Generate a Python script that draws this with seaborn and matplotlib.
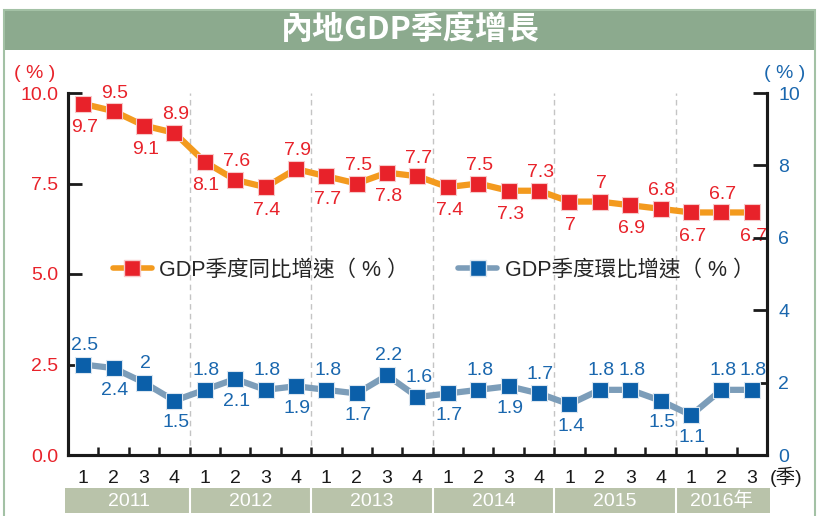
import numpy as np
import pandas as pd
import seaborn as sns
import matplotlib
matplotlib.use("Agg")
import matplotlib.pyplot as plt
from matplotlib.patches import Rectangle
from matplotlib.lines import Line2D
from matplotlib.transforms import blended_transform_factory

# ---------------- data ----------------
quarters = ["1", "2", "3", "4"] * 5 + ["1", "2", "3"]
years = ["2011", "2012", "2013", "2014", "2015", "2016年"]
year_len = [4, 4, 4, 4, 4, 3]
yoy = [9.7, 9.5, 9.1, 8.9, 8.1, 7.6, 7.4, 7.9, 7.7, 7.5, 7.8, 7.7,
       7.4, 7.5, 7.3, 7.3, 7.0, 7.0, 6.9, 6.8, 6.7, 6.7, 6.7]
yoy_labels = ["9.7", "9.5", "9.1", "8.9", "8.1", "7.6", "7.4", "7.9", "7.7", "7.5", "7.8", "7.7",
              "7.4", "7.5", "7.3", "7.3", "7", "7", "6.9", "6.8", "6.7", "6.7", "6.7"]
qoq = [2.5, 2.4, 2.0, 1.5, 1.8, 2.1, 1.8, 1.9, 1.8, 1.7, 2.2, 1.6,
       1.7, 1.8, 1.9, 1.7, 1.4, 1.8, 1.8, 1.5, 1.1, 1.8, 1.8]
qoq_labels = ["2.5", "2.4", "2", "1.5", "1.8", "2.1", "1.8", "1.9", "1.8", "1.7", "2.2", "1.6",
              "1.7", "1.8", "1.9", "1.7", "1.4", "1.8", "1.8", "1.5", "1.1", "1.8", "1.8"]
left_ticks = [0.0, 2.5, 5.0, 7.5, 10.0]
right_ticks = [0, 2, 4, 6, 8, 10]
title = "內地GDP季度增長"
name_yoy = "GDP季度同比增速（ % ）"
name_qoq = "GDP季度環比增速（ % ）"

# label placement (1 above, -1 below)
yoy_pos = [-1, 1] * 11 + [-1]
qoq_pos = [1, -1, 1, -1, 1, -1, 1, -1, 1, -1, 1, 1,
           -1, 1, -1, 1, -1, 1, 1, -1, -1, 1, 1]

# ---------------- style ----------------
sns.set_theme(style="white")
plt.rcParams["font.family"] = ["Liberation Sans", "Noto Sans CJK TC", "DejaVu Sans"]

RED = "#e8222a"
ORANGE = "#f39a1e"
BLUE = "#0b5fa9"
BLUE_LINE = "#7c9db9"
BLUE_TXT = "#1a67ae"
GREEN = "#8caa8e"
BAND = "#b9c3aa"
FS = 14

df = pd.DataFrame({"x": np.arange(len(yoy)), "yoy": yoy, "qoq": qoq})

fig = plt.figure(figsize=(8.2, 5.16), dpi=100)
fig.patch.set_facecolor("white")
ax = fig.add_axes([68 / 820, 1 - 455 / 516, (767 - 68) / 820, (455 - 93) / 516])
ax2 = ax.twinx()

# title bar + frame
fig.patches.append(Rectangle((0.005, 1 - 50 / 516), 0.989, 40 / 516, transform=fig.transFigure,
                             facecolor=GREEN, edgecolor="none", zorder=0))
fig.patches.append(Rectangle((0.005, -0.02), 0.989, 1 - 10 / 516 + 0.02, transform=fig.transFigure,
                             facecolor="none", edgecolor="#a3c1a5", lw=1.5, zorder=0))
fig.text(0.5, 1 - 30 / 516, title, color="white", fontsize=23, fontweight="bold",
         ha="center", va="center", family=["Noto Sans CJK TC", "DejaVu Sans"])

# year separators
for b in np.cumsum(year_len)[:-1] - 0.5:
    ax.axvline(b, color="#c4c4c4", lw=1, ls=(0, (4, 3)), zorder=0)

sns.lineplot(data=df, x="x", y="yoy", ax=ax, color=ORANGE, lw=4.5, marker="s", markersize=11,
             markerfacecolor=RED, markeredgecolor="#f7c9c9", markeredgewidth=0.8, zorder=3)
sns.lineplot(data=df, x="x", y="qoq", ax=ax2, color=BLUE_LINE, lw=4.5, marker="s", markersize=11,
             markerfacecolor=BLUE, markeredgecolor="#dbe6f0", markeredgewidth=0.8, zorder=3)

for i, (v, t, p) in enumerate(zip(yoy, yoy_labels, yoy_pos)):
    ax.annotate(t, (i, v), xytext=(1, 13 if p > 0 else -17), textcoords="offset points",
                ha="center", va="center", color=RED, fontsize=FS)
for i, (v, t, p) in enumerate(zip(qoq, qoq_labels, qoq_pos)):
    ax2.annotate(t, (i, v), xytext=(1, 14 if p > 0 else -16), textcoords="offset points",
                 ha="center", va="center", color=BLUE_TXT, fontsize=FS)

for a in (ax, ax2):
    a.set_xlim(-0.5, len(yoy) - 0.5)
    a.set_ylim(0, 10)
    a.set_xlabel("")
    a.set_ylabel("")
    a.spines["top"].set_visible(False)
    for s in ("left", "right", "bottom"):
        a.spines[s].set_color("#1a1a1a")
        a.spines[s].set_linewidth(2.2)

ax.set_yticks(left_ticks)
ax.set_yticklabels([f"{t:.1f}" for t in left_ticks])
ax.tick_params(axis="y", direction="in", length=10, width=2, colors="#1a1a1a",
               labelcolor=RED, labelsize=FS, pad=7, left=True)
ax2.set_yticks(right_ticks)
ax2.set_yticklabels([str(t) for t in right_ticks])
ax2.tick_params(axis="y", direction="in", length=10, width=2, colors="#1a1a1a",
                labelcolor=BLUE_TXT, labelsize=FS, pad=8, right=True)

ax.set_xticks(np.arange(len(quarters)))
ax.set_xticklabels(quarters)
ax.set_xticks(np.arange(len(quarters) - 1) + 0.5, minor=True)
ax.tick_params(axis="x", which="major", length=0, labelsize=FS, labelcolor="#1a1a1a", pad=11)
ax.tick_params(axis="x", which="minor", direction="in", length=6, width=1.8, color="#1a1a1a", bottom=True)
ax2.tick_params(axis="x", bottom=False, labelbottom=False)

fig.text(35 / 820, 1 - 73 / 516, "( % )", color=RED, fontsize=FS, ha="center", va="center")
fig.text(785 / 820, 1 - 73 / 516, "( % )", color=BLUE_TXT, fontsize=FS, ha="center", va="center")
fig.text(786 / 820, 1 - 477 / 516, "(季)", color="#1a1a1a", fontsize=FS, ha="center", va="center")

# year band
tr = blended_transform_factory(ax.transData, fig.transFigure)
ax.add_patch(Rectangle((-0.6, 1 - 513 / 516), len(yoy) + 0.2, 25 / 516, transform=tr,
                       facecolor=BAND, edgecolor="none", clip_on=False))
start = -0.5
for y, n in zip(years, year_len):
    ax.text(start + n / 2, 1 - 501 / 516, y, transform=tr, ha="center", va="center",
            color="white", fontsize=FS, clip_on=False)
    if start > -0.5:
        ax.add_line(Line2D([start, start], [1 - 513 / 516, 1 - 488 / 516], transform=tr,
                           color="white", lw=1.5, clip_on=False))
    start += n

for a in (ax, ax2):
    if a.get_legend() is not None:
        a.get_legend().remove()
h1 = Line2D([], [], color=ORANGE, lw=4, marker="s", markersize=11, markerfacecolor=RED,
            markeredgecolor="#f7c9c9")
h2 = Line2D([], [], color=BLUE_LINE, lw=4, marker="s", markersize=11, markerfacecolor=BLUE,
            markeredgecolor="#dbe6f0")
ax2.legend([h1, h2], [name_yoy, name_qoq], loc="center left", bbox_to_anchor=(113 / 820, 1 - 270 / 516),
           bbox_transform=fig.transFigure, frameon=False, ncol=2, handlelength=1.8,
           handletextpad=0.35, columnspacing=2.3, fontsize=15.5, borderpad=0, borderaxespad=0)

fig.savefig("out.png", dpi=100, facecolor="white")
